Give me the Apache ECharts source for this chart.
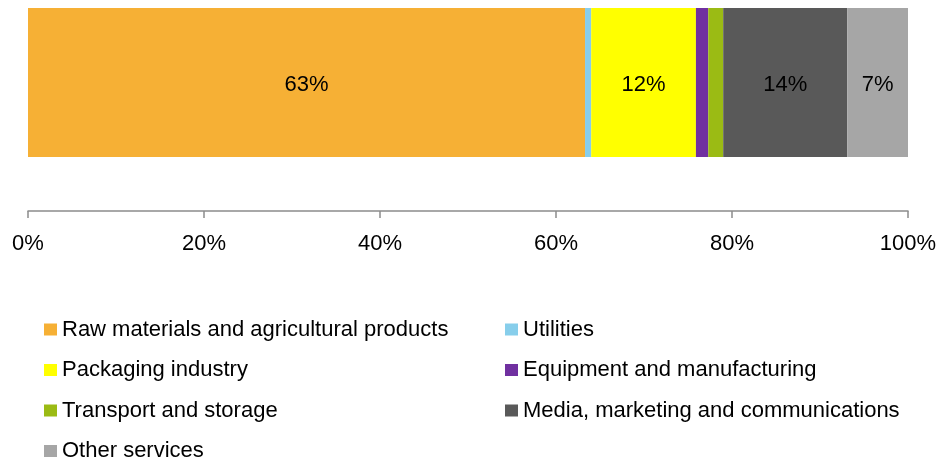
<!DOCTYPE html>
<html>
<head>
<meta charset="utf-8">
<script src="https://cdn.jsdelivr.net/npm/echarts@6/dist/echarts.min.js"></script>
<style>
  html, body { margin: 0; padding: 0; background: #ffffff; }
  #chart { width: 942px; height: 464px; }
</style>
</head>
<body>
<div id="chart"></div>
<script>
// Share of spending by sector (percent of total)
var categories = ['Total'];
var sectorNames = [
  'Raw materials and agricultural products',
  'Utilities',
  'Packaging industry',
  'Equipment and manufacturing',
  'Transport and storage',
  'Media, marketing and communications',
  'Other services'
];
var sectorValues = [63.3, 0.7, 11.9, 1.4, 1.7, 14.1, 6.9];
var sectorColors = ['#F6B035', '#87CEEB', '#FFFF00', '#7030A0', '#9BBB14', '#595959', '#A6A6A6'];
var showValueLabel = [true, false, true, false, false, true, true];
var tickLabels = ['0%', '20%', '40%', '60%', '80%', '100%'];

var FONT = '"Liberation Sans", Arial, sans-serif';

var series = sectorNames.map(function (name, i) {
  return {
    name: name,
    type: 'bar',
    stack: 'share',
    barWidth: 149,
    data: [sectorValues[i]],
    itemStyle: { color: sectorColors[i] },
    label: {
      show: showValueLabel[i],
      position: 'inside',
      offset: [0, 2],
      color: '#000000',
      fontFamily: FONT,
      fontSize: 22,
      formatter: function (p) { return Math.round(p.value) + '%'; }
    },
    emphasis: { disabled: true }
  };
});

var legendText = { fontFamily: FONT, fontSize: 22, color: '#000000', lineHeight: 22 };

function legendColumn(left, names) {
  return {
    orient: 'vertical',
    left: left,
    top: 318.5,
    height: 145,
    padding: 0,
    itemWidth: 13,
    itemHeight: 12,
    itemGap: 18.5,
    icon: 'rect',
    selectedMode: false,
    textStyle: legendText,
    data: names
  };
}

var option = {
  animation: false,
  backgroundColor: '#ffffff',
  grid: { left: 28, right: 34, top: 0, height: 165 },
  xAxis: {
    type: 'value',
    min: 0,
    max: 100,
    interval: 20,
    offset: 46,
    axisLine: { show: true, lineStyle: { color: '#8c8c8c', width: 1.5 } },
    axisTick: { show: true, length: 7, lineStyle: { color: '#8c8c8c', width: 1.5 } },
    splitLine: { show: false },
    axisLabel: {
      margin: 22,
      color: '#000000',
      fontFamily: FONT,
      fontSize: 22,
      formatter: function (v) { return tickLabels[Math.round(v / 20)]; }
    }
  },
  yAxis: {
    type: 'category',
    data: categories,
    show: false
  },
  legend: [
    legendColumn(44, [sectorNames[0], sectorNames[2], sectorNames[4], sectorNames[6]]),
    legendColumn(505, [sectorNames[1], sectorNames[3], sectorNames[5]])
  ],
  series: series
};

var chart = echarts.init(document.getElementById('chart'), null, { renderer: 'canvas' });
chart.setOption(option);
</script>
</body>
</html>
